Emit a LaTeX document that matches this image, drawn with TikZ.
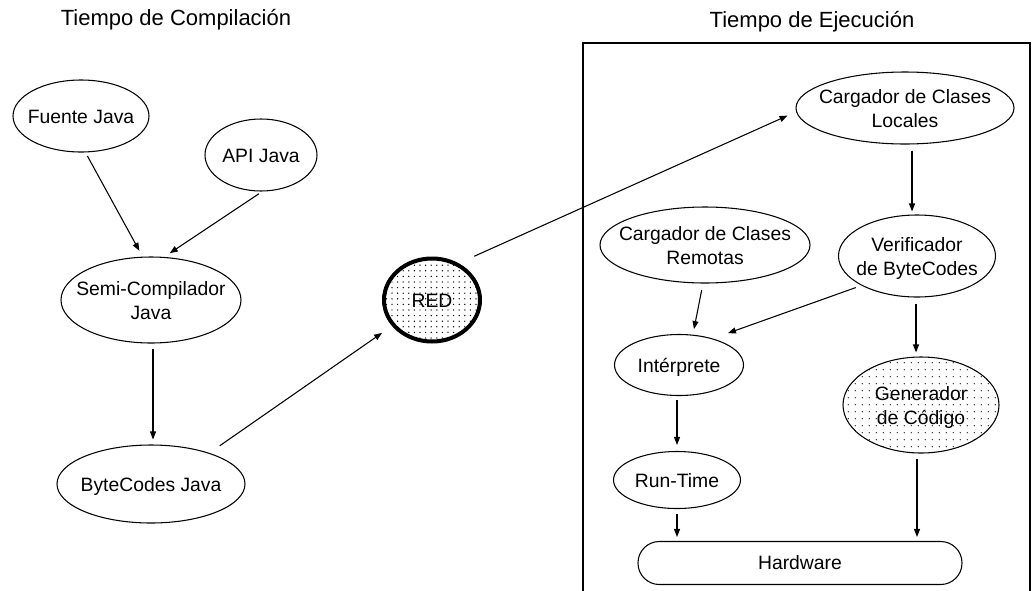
\documentclass[tikz,border=0pt]{standalone}
\usepackage{fontspec}
\setmainfont{Liberation Sans}
\usetikzlibrary{shapes.geometric,arrows.meta,patterns.meta}
\newcommand{\ztxt}[1]{\makebox[0pt]{\raisebox{-2.2pt}[\height][\depth]{\begin{tabular}{@{}c@{}}#1\end{tabular}}}}
\tikzset{
  ell/.style 2 args={ellipse,draw,line width=0.8pt,inner sep=0pt,
    minimum width=#1*0.75pt,minimum height=#2*0.75pt,
    font=\fontsize{14.5}{17.5}\selectfont},
  dotted fill/.style={pattern={Dots[distance=#1,radius=0.55pt]}},
  arr/.style={line width=0.8pt,-{Triangle[length=6pt,width=4.5pt]}},
  title/.style={font=\fontsize{16.5}{20}\selectfont},
  hwbox/.style={draw,line width=0.8pt,rounded corners=16pt,
    minimum width=324*0.75pt,minimum height=43*0.75pt,inner sep=0pt,
    font=\fontsize{14.5}{17.5}\selectfont}
}
\begin{document}
\begin{tikzpicture}[x=0.75pt,y=-0.75pt]
\useasboundingbox (0,0) rectangle (1032,590);
% titles
\node[title] (tcomp) at (176,20) {Tiempo de Compilación};
\node[title] (tejec) at (812,22) {Tiempo de Ejecución};
% run-time frame
\draw[line width=1.1pt] (583,600) -- (583,43) -- (1030,43) -- (1030,600);
% compile-time nodes
\node[ell={136}{72}] (fuente) at (81,116) {\ztxt{Fuente Java}};
\node[ell={112}{72}] (api) at (261,155) {\ztxt{API Java}};
\node[ell={180}{86}] (semi) at (151,300) {\ztxt{Semi-Compilador\\Java}};
\node[ell={188}{78}] (bytec) at (151,484) {\ztxt{ByteCodes Java}};
\node[ell={96}{83},line width=3pt,dotted fill=4.2pt] (red) at (432,300) {\ztxt{RED}};
% run-time nodes
\node[ell={218}{72}] (locales) at (905,108) {\ztxt{Cargador de Clases\\Locales}};
\node[ell={157}{82}] (verif) at (917,256) {\ztxt{Verificador\\de ByteCodes}};
\node[ell={210}{76}] (remotas) at (705,245) {\ztxt{Cargador de Clases\\Remotas}};
\node[ell={129}{61}] (interp) at (679,365) {\ztxt{Intérprete}};
\node[ell={156}{96},dotted fill=5.4pt] (gen) at (921,405) {\ztxt{Generador\\de Código}};
\node[ell={127}{57}] (runtime) at (677,480) {\ztxt{Run-Time}};
\node[hwbox] (hw) at (800,563) {Hardware};
% connectors
\draw[arr,shorten <=3pt,shorten >=5pt] (fuente.-83) -- (semi.101);
\draw[arr,shorten <=3pt,shorten >=5pt] (api.-88) -- (semi.73);
\draw[arr,shorten <=3.75pt,shorten >=3.75pt] ([xshift=1.5pt]semi.south) -- ([xshift=1.5pt]bytec.north);
\draw[arr,shorten <=9.4pt,shorten >=9pt] (bytec.28) -- (red.213);
\draw[arr,shorten <=12.75pt,shorten >=7pt] (red.54) -- (locales.182);
\draw[arr,shorten <=4.5pt,shorten >=2.25pt] ([xshift=5.25pt]locales.south) -- ([xshift=-3.75pt]verif.north);
\draw[arr,shorten <=5pt,shorten >=3.75pt] ([xshift=-1.5pt]remotas.south) -- ([xshift=10.5pt]interp.north);
\draw[arr,shorten <=4.5pt,shorten >=12pt] (verif.208) -- (interp.38);
\draw[arr,shorten <=4.5pt,shorten >=3pt] ([xshift=-0.75pt]verif.south) -- ([xshift=-3.75pt]gen.north);
\draw[arr,shorten <=3pt,shorten >=4.5pt] ([xshift=-1.5pt]interp.south) -- (runtime.north);
\draw[arr,shorten <=3.75pt,shorten >=3pt] (runtime.south) -- (runtime.south |- hw.north);
\draw[arr,shorten <=3.75pt,shorten >=3pt] ([xshift=-3pt]gen.south) -- ([xshift=-3pt]gen.south |- hw.north);
\end{tikzpicture}
\end{document}
